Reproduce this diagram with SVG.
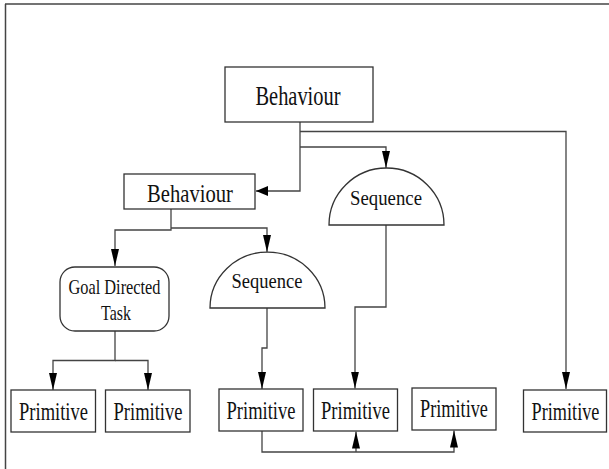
<svg xmlns="http://www.w3.org/2000/svg" width="609" height="469" viewBox="0 0 609 469">
<style>
.box{fill:#fff;stroke:#333;stroke-width:1.3}
.ln{fill:none;stroke:#444;stroke-width:1.3}
.t{font-family:"Liberation Serif","Times New Roman",serif;fill:#111;text-anchor:middle}
.p{font-size:25px}
.frame{stroke:#444;stroke-width:1.5}
</style>
<defs>
<marker id="av" viewBox="0 0 17 8" markerWidth="17" markerHeight="8" refX="17" refY="4" orient="auto" markerUnits="userSpaceOnUse"><path d="M0,0 L17,4 L0,8 Z" fill="#000"/></marker>
<marker id="ah" viewBox="0 0 12 10" markerWidth="12" markerHeight="10" refX="12" refY="5" orient="auto" markerUnits="userSpaceOnUse"><path d="M0,0 L12,5 L0,10 Z" fill="#000"/></marker>
</defs>
<rect width="609" height="469" fill="#fff"/>
<line class="frame" x1="5" y1="4" x2="609" y2="4"/>
<line class="frame" x1="5.5" y1="4" x2="5.5" y2="469"/>
<g id="connectors">
<path class="ln" d="M300,122 V191 H256" marker-end="url(#ah)"/>
<path class="ln" d="M300,131.5 H566 V389" marker-end="url(#av)"/>
<path class="ln" d="M300,147 H386 V168" marker-end="url(#av)"/>
<path class="ln" d="M171,209 V230 H115 V266" marker-end="url(#av)"/>
<path class="ln" d="M171,228 H267 V252" marker-end="url(#av)"/>
<path class="ln" d="M115,331 V360.5 H53 V390" marker-end="url(#av)"/>
<path class="ln" d="M115,360.5 H148 V390" marker-end="url(#av)"/>
<path class="ln" d="M267,308 V348 H262 V389" marker-end="url(#av)"/>
<path class="ln" d="M386,225 V307 H355 V388.5" marker-end="url(#av)"/>
<path class="ln" d="M262,431 V452 H454 V430.5" marker-end="url(#av)"/>
<path class="ln" d="M356,452 V431.5" marker-end="url(#av)"/>
</g>
<g id="behaviour-top">
<rect class="box" x="225" y="67" width="148" height="55"/>
<text class="t" font-size="27" transform="translate(298,105) scale(0.756,1)">Behaviour</text>
</g>
<g id="behaviour-left">
<rect class="box" x="124" y="174" width="131" height="35"/>
<text class="t" font-size="26" transform="translate(190,202) scale(0.794,1)">Behaviour</text>
</g>
<g id="sequence-upper">
<path class="box" d="M329,225 A57.5,57 0 0 1 444,225 Z"/>
<text class="t" font-size="22" transform="translate(386,205) scale(0.854,1)">Sequence</text>
</g>
<g id="sequence-lower">
<path class="box" d="M210,308 A57.5,56 0 0 1 325,308 Z"/>
<text class="t" font-size="22" transform="translate(267,288) scale(0.842,1)">Sequence</text>
</g>
<g id="goal-task">
<rect class="box" x="60" y="267" width="109" height="64" rx="15" ry="15"/>
<text class="t" font-size="21" transform="translate(114.5,294) scale(0.777,1)">Goal Directed</text>
<text class="t" font-size="21" transform="translate(116,320) scale(0.76,1)">Task</text>
</g>
<g id="primitive-1">
<rect class="box" x="11" y="390" width="84.5" height="42"/>
<text class="t p" transform="translate(53.5,419.5) scale(0.741,1)">Primitive</text>
</g>
<g id="primitive-2">
<rect class="box" x="105.5" y="390" width="84.5" height="42"/>
<text class="t p" transform="translate(148,419.5) scale(0.741,1)">Primitive</text>
</g>
<g id="primitive-3">
<rect class="box" x="219" y="389" width="84" height="42"/>
<text class="t p" transform="translate(261,418.5) scale(0.741,1)">Primitive</text>
</g>
<g id="primitive-4">
<rect class="box" x="313.5" y="389" width="84" height="42"/>
<text class="t p" transform="translate(355.5,418.5) scale(0.741,1)">Primitive</text>
</g>
<g id="primitive-5">
<rect class="box" x="412" y="388" width="84" height="42"/>
<text class="t p" transform="translate(454,417) scale(0.73,1)">Primitive</text>
</g>
<g id="primitive-6">
<rect class="box" x="523.5" y="390" width="83" height="42"/>
<text class="t p" transform="translate(565.5,419.5) scale(0.73,1)">Primitive</text>
</g>
</svg>
